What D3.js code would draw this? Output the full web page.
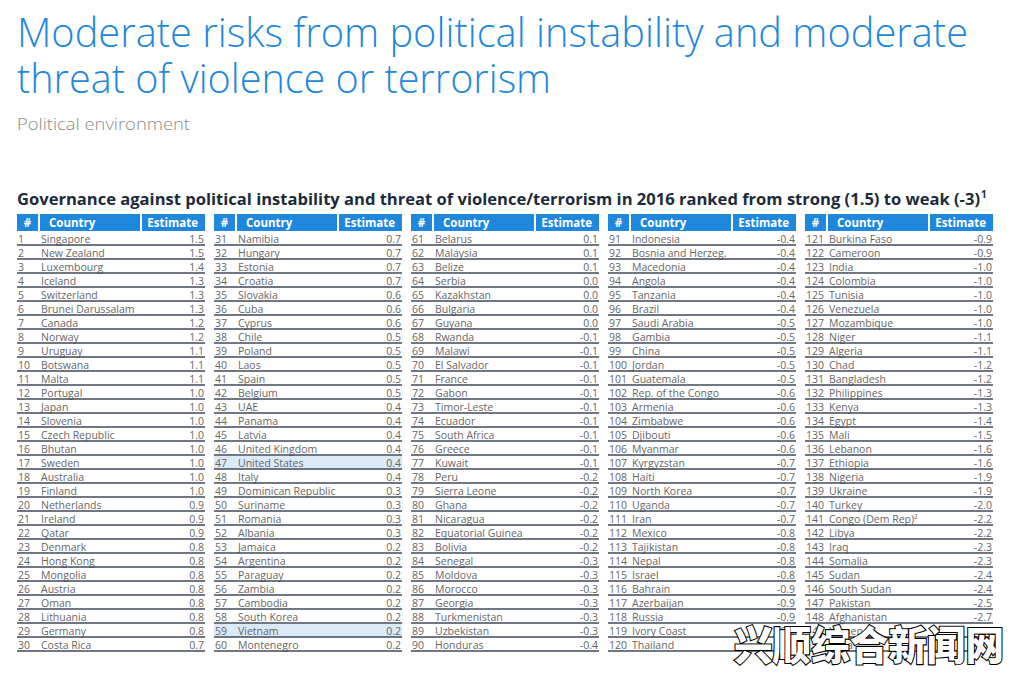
<!DOCTYPE html>
<html>
<head>
<meta charset="utf-8">
<script src="https://cdn.jsdelivr.net/npm/d3@7"></script>
<style>
  html, body { margin: 0; padding: 0; background: #fff; }
  svg { display: block; }
</style>
</head>
<body>
<svg id="chart" width="1014" height="673"></svg>
<script>
// ---------- DATA ----------
const titleLines = ["Moderate risks from political instability and moderate", "threat of violence or terrorism"];
const subtitle = "Political environment";
const tableTitle = "Governance against political instability and threat of violence/terrorism in 2016 ranked from strong (1.5) to weak (-3)";
const tableTitleNote = "1";
const headers = ["#", "Country", "Estimate"];
const countries = [
  "Singapore","New Zealand","Luxembourg","Iceland","Switzerland","Brunei Darussalam","Canada","Norway","Uruguay","Botswana",
  "Malta","Portugal","Japan","Slovenia","Czech Republic","Bhutan","Sweden","Australia","Finland","Netherlands",
  "Ireland","Qatar","Denmark","Hong Kong","Mongolia","Austria","Oman","Lithuania","Germany","Costa Rica",
  "Namibia","Hungary","Estonia","Croatia","Slovakia","Cuba","Cyprus","Chile","Poland","Laos",
  "Spain","Belgium","UAE","Panama","Latvia","United Kingdom","United States","Italy","Dominican Republic","Suriname",
  "Romania","Albania","Jamaica","Argentina","Paraguay","Zambia","Cambodia","South Korea","Vietnam","Montenegro",
  "Belarus","Malaysia","Belize","Serbia","Kazakhstan","Bulgaria","Guyana","Rwanda","Malawi","El Salvador",
  "France","Gabon","Timor-Leste","Ecuador","South Africa","Greece","Kuwait","Peru","Sierra Leone","Ghana",
  "Nicaragua","Equatorial Guinea","Bolivia","Senegal","Moldova","Morocco","Georgia","Turkmenistan","Uzbekistan","Honduras",
  "Indonesia","Bosnia and Herzeg.","Macedonia","Angola","Tanzania","Brazil","Saudi Arabia","Gambia","China","Jordan",
  "Guatemala","Rep. of the Congo","Armenia","Zimbabwe","Djibouti","Myanmar","Kyrgyzstan","Haiti","North Korea","Uganda",
  "Iran","Mexico","Tajikistan","Nepal","Israel","Bahrain","Azerbaijan","Russia","Ivory Coast","Thailand",
  "Burkina Faso","Cameroon","India","Colombia","Tunisia","Venezuela","Mozambique","Niger","Algeria","Chad",
  "Bangladesh","Philippines","Kenya","Egypt","Mali","Lebanon","Ethiopia","Nigeria","Ukraine","Turkey",
  "Congo (Dem Rep)\u00B2","Libya","Iraq","Somalia","Sudan","South Sudan","Pakistan","Afghanistan","Yemen","Syria"
];
const estimates = [
  1.5,1.5,1.4,1.3,1.3,1.3,1.2,1.2,1.1,1.1,
  1.1,1.0,1.0,1.0,1.0,1.0,1.0,1.0,1.0,0.9,
  0.9,0.9,0.8,0.8,0.8,0.8,0.8,0.8,0.8,0.7,
  0.7,0.7,0.7,0.7,0.6,0.6,0.6,0.5,0.5,0.5,
  0.5,0.5,0.4,0.4,0.4,0.4,0.4,0.4,0.3,0.3,
  0.3,0.3,0.2,0.2,0.2,0.2,0.2,0.2,0.2,0.2,
  0.1,0.1,0.1,0.0,0.0,0.0,0.0,-0.1,-0.1,-0.1,
  -0.1,-0.1,-0.1,-0.1,-0.1,-0.1,-0.1,-0.2,-0.2,-0.2,
  -0.2,-0.2,-0.2,-0.3,-0.3,-0.3,-0.3,-0.3,-0.3,-0.4,
  -0.4,-0.4,-0.4,-0.4,-0.4,-0.4,-0.5,-0.5,-0.5,-0.5,
  -0.5,-0.6,-0.6,-0.6,-0.6,-0.6,-0.7,-0.7,-0.7,-0.7,
  -0.7,-0.8,-0.8,-0.8,-0.8,-0.9,-0.9,-0.9,-0.9,-0.9,
  -0.9,-0.9,-1.0,-1.0,-1.0,-1.0,-1.0,-1.1,-1.1,-1.2,
  -1.2,-1.3,-1.3,-1.4,-1.5,-1.6,-1.6,-1.9,-1.9,-2.0,
  -2.2,-2.2,-2.3,-2.3,-2.4,-2.4,-2.5,-2.7,-2.9,-3.0
];
const highlightedRanks = [47, 59];
const rowsPerColumn = 30;
const watermark = "兴顺综合新闻网";

// ---------- DRAW ----------
const svg = d3.select("#chart");
const blue = "#1f88dc";
const font = "'Open Sans', 'Noto Sans', sans-serif";

const rows = countries.map((c, i) => ({
  rank: i + 1, country: c, value: estimates[i],
  col: Math.floor(i / rowsPerColumn), row: i % rowsPerColumn
}));

// titles
svg.selectAll("text.title").data(titleLines).join("text")
  .attr("class", "title")
  .attr("x", 17).attr("y", (d, i) => 47 + i * 46)
  .attr("font-family", font).attr("font-weight", 300).attr("font-size", 40)
  .attr("fill", blue)
  .attr("textLength", (d, i) => i === 0 ? 951 : 534)
  .attr("lengthAdjust", "spacingAndGlyphs")
  .text(d => d);

svg.append("text").attr("x", 17).attr("y", 130)
  .attr("font-family", font).attr("font-weight", 300).attr("font-size", 17)
  .attr("fill", "#8a8a8a").attr("textLength", 173).attr("lengthAdjust", "spacingAndGlyphs")
  .text(subtitle);

svg.append("text").attr("x", 17).attr("y", 205)
  .attr("font-family", font).attr("font-weight", 700).attr("font-size", 16.5)
  .attr("fill", "#1b2b3b").attr("textLength", 963).attr("lengthAdjust", "spacingAndGlyphs")
  .text(tableTitle);
svg.append("text").attr("x", 981).attr("y", 198)
  .attr("font-family", font).attr("font-weight", 700).attr("font-size", 10)
  .attr("fill", "#1b2b3b").text(tableTitleNote);

// scales
const xCol = d3.scaleBand().domain(d3.range(5)).range([17, 993]).paddingInner(9 / 197);
const yRow = d3.scaleBand().domain(d3.range(rowsPerColumn)).range([231, 231 + 14 * rowsPerColumn]);
const colW = xCol.bandwidth();
// header sub-cells (relative to column start)
const cellX = d3.scaleOrdinal().domain(headers).range([0, 23, 125]);
const cellW = d3.scaleOrdinal().domain(headers).range([21, 100, colW - 125]);

const cols = svg.selectAll("g.col").data(d3.range(5)).join("g")
  .attr("class", "col").attr("transform", d => `translate(${xCol(d)},0)`);

// header
cols.selectAll("rect.hd").data(headers).join("rect")
  .attr("class", "hd")
  .attr("x", d => cellX(d)).attr("y", 214)
  .attr("width", d => cellW(d)).attr("height", 17)
  .attr("fill", blue);
cols.selectAll("text.hd").data(headers).join("text")
  .attr("class", "hd")
  .attr("x", (d, i) => i === 0 ? cellX(d) + cellW(d) / 2 : i === 1 ? cellX(d) + 9 : cellX(d) + cellW(d) - 7)
  .attr("text-anchor", (d, i) => i === 0 ? "middle" : i === 1 ? "start" : "end")
  .attr("y", 227)
  .attr("font-family", font).attr("font-weight", 700).attr("font-size", 11.5)
  .attr("fill", "#fff")
  .text(d => d);

// rows
const rowG = cols.selectAll("g.row").data(c => rows.filter(r => r.col === c)).join("g")
  .attr("class", "row").attr("transform", d => `translate(0,${yRow(d.row)})`);

rowG.filter(d => highlightedRanks.includes(d.rank)).append("rect")
  .attr("x", 0).attr("y", 1).attr("width", colW).attr("height", yRow.bandwidth() - 1)
  .attr("fill", "#dce9f6");

rowG.append("text")
  .attr("x", 1).attr("y", 12)
  .attr("font-family", font).attr("font-size", 10.5).attr("fill", "#666")
  .text(d => d.rank);
rowG.append("text")
  .attr("x", 24).attr("y", 12)
  .attr("font-family", font).attr("font-size", 10.5).attr("fill", "#666")
  .text(d => d.country);
rowG.append("text")
  .attr("x", colW - 1).attr("y", 12).attr("text-anchor", "end")
  .attr("font-family", font).attr("font-size", 10.5).attr("fill", "#666")
  .text(d => d.value.toFixed(1));
rowG.append("line")
  .attr("x1", 0).attr("x2", colW)
  .attr("y1", yRow.bandwidth()).attr("y2", yRow.bandwidth())
  .attr("stroke", "#3e4a5a").attr("stroke-width", 1.3);

// watermark overlay
svg.append("text").attr("x", 734).attr("y", 660)
  .attr("font-family", "'Noto Sans CJK SC', sans-serif").attr("font-weight", 900).attr("font-size", 40)
  .attr("fill", "#fff").attr("stroke", "#000").attr("stroke-width", 2.2)
  .attr("paint-order", "stroke")
  .attr("textLength", 270).attr("lengthAdjust", "spacingAndGlyphs")
  .text(watermark);
</script>
</body>
</html>
